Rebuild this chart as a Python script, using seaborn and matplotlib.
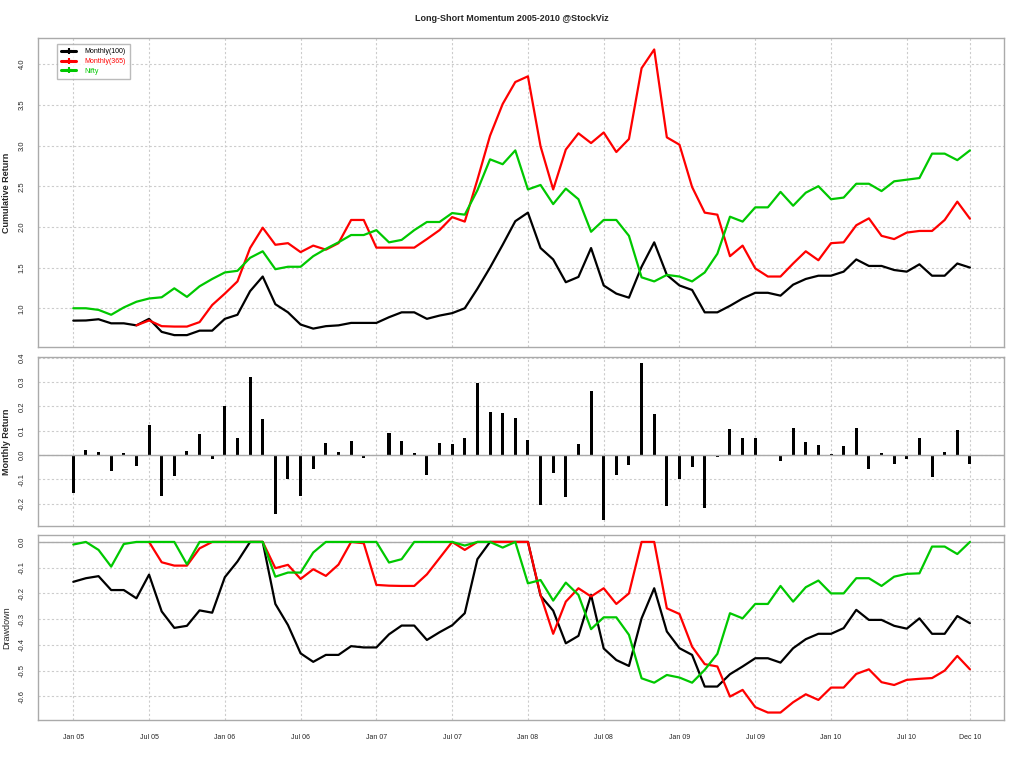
import numpy as np
import pandas as pd
import matplotlib
matplotlib.use("Agg")
import matplotlib.pyplot as plt
from matplotlib.lines import Line2D
import seaborn as sns

# ---------------- data ----------------
month_labels = ["Jan 05","Jul 05","Jan 06","Jul 06","Jan 07","Jul 07","Jan 08",
                "Jul 08","Jan 09","Jul 09","Jan 10","Jul 10","Dec 10"]
month_label_pos = [0, 6, 12, 18, 24, 30, 36, 42, 48, 54, 60, 66, 71]

cum_m100 = [0.848, 0.85, 0.865, 0.815, 0.815, 0.79, 0.87, 0.71, 0.67, 0.67, 0.725, 0.725,
            0.87, 0.92, 1.21, 1.39, 1.05, 0.95, 0.80, 0.75, 0.78, 0.79, 0.82, 0.82,
            0.82, 0.89, 0.95, 0.95, 0.87, 0.91, 0.94, 1.00, 1.24, 1.50, 1.78, 2.07,
            2.175, 1.74, 1.60, 1.32, 1.385, 1.74, 1.28, 1.18, 1.13, 1.51, 1.81, 1.41,
            1.28, 1.225, 0.95, 0.95, 1.03, 1.12, 1.19, 1.19, 1.155, 1.29, 1.36, 1.40,
            1.40, 1.45, 1.60, 1.52, 1.52, 1.47, 1.45, 1.54, 1.40, 1.40, 1.55, 1.50]
cum_m365 = [np.nan, np.nan, np.nan, np.nan, np.nan, 0.79, 0.85, 0.78, 0.775, 0.775, 0.83, 1.04,
            1.18, 1.33, 1.74, 1.99, 1.78, 1.80, 1.69, 1.77, 1.72, 1.80, 2.085, 2.085,
            1.745, 1.745, 1.745, 1.745, 1.85, 1.96, 2.12, 2.065, 2.58, 3.12, 3.51, 3.78,
            3.85, 2.99, 2.46, 2.95, 3.15, 3.03, 3.16, 2.92, 3.08, 3.95, 4.18, 3.10,
            3.01, 2.49, 2.175, 2.15, 1.64, 1.77, 1.49, 1.39, 1.39, 1.55, 1.70, 1.59,
            1.80, 1.81, 2.02, 2.105, 1.89, 1.85, 1.93, 1.95, 1.95, 2.085, 2.31, 2.10]
cum_nifty = [1.00, 1.00, 0.98, 0.92, 1.01, 1.08, 1.12, 1.135, 1.245, 1.14, 1.27, 1.36,
             1.44, 1.46, 1.62, 1.70, 1.48, 1.51, 1.51, 1.64, 1.73, 1.81, 1.90, 1.90,
             1.96, 1.81, 1.84, 1.96, 2.06, 2.06, 2.17, 2.15, 2.45, 2.83, 2.77, 2.94,
             2.46, 2.515, 2.28, 2.47, 2.34, 1.94, 2.085, 2.085, 1.89, 1.38, 1.33, 1.41,
             1.39, 1.33, 1.44, 1.67, 2.125, 2.065, 2.24, 2.24, 2.43, 2.26, 2.42, 2.50,
             2.34, 2.36, 2.53, 2.53, 2.44, 2.56, 2.58, 2.60, 2.90, 2.90, 2.82, 2.94]

monthly_ret = [-0.155, 0.02, 0.012, -0.064, 0.008, -0.044, 0.123, -0.167, -0.085, 0.016, 0.086, -0.015,
               0.20, 0.07, 0.32, 0.148, -0.241, -0.097, -0.167, -0.056, 0.049, 0.012, 0.059, -0.011,
               -0.004, 0.09, 0.059, 0.008, -0.081, 0.049, 0.045, 0.07, 0.297, 0.178, 0.174, 0.152,
               0.062, -0.205, -0.073, -0.171, 0.045, 0.264, -0.267, -0.082, -0.041, 0.379, 0.168, -0.21,
               -0.099, -0.049, -0.218, -0.008, 0.107, 0.07, 0.07, 0.002, -0.025, 0.111, 0.055, 0.041,
               0.005, 0.037, 0.111, -0.058, 0.008, -0.037, -0.016, 0.07, -0.09, 0.014, 0.103, -0.037]

dd_m100 = [-0.155, -0.141, -0.133, -0.187, -0.187, -0.219, -0.127, -0.27, -0.334, -0.326, -0.266, -0.275,
           -0.137, -0.076, 0.0, 0.0, -0.241, -0.323, -0.433, -0.466, -0.439, -0.439, -0.405, -0.41,
           -0.41, -0.359, -0.325, -0.325, -0.381, -0.351, -0.324, -0.277, -0.067, 0.0, 0.0, 0.0,
           0.0, -0.209, -0.267, -0.394, -0.365, -0.206, -0.414, -0.459, -0.482, -0.297, -0.18, -0.348,
           -0.413, -0.439, -0.562, -0.562, -0.514, -0.484, -0.452, -0.452, -0.469, -0.413, -0.378, -0.357,
           -0.357, -0.335, -0.264, -0.303, -0.303, -0.326, -0.337, -0.297, -0.357, -0.357, -0.288, -0.316]
dd_m365 = [np.nan, np.nan, np.nan, np.nan, np.nan, np.nan, 0.0, -0.079, -0.092, -0.092, -0.025, 0.0,
           0.0, 0.0, 0.0, 0.0, -0.102, -0.089, -0.144, -0.106, -0.132, -0.088, 0.0, -0.005,
           -0.167, -0.17, -0.171, -0.171, -0.126, -0.063, 0.0, -0.031, 0.0, 0.0, 0.0, 0.0,
           0.0, -0.206, -0.357, -0.232, -0.18, -0.212, -0.18, -0.241, -0.2, 0.0, 0.0, -0.258,
           -0.28, -0.407, -0.475, -0.484, -0.601, -0.575, -0.642, -0.663, -0.663, -0.623, -0.592, -0.614,
           -0.566, -0.566, -0.513, -0.495, -0.545, -0.556, -0.536, -0.532, -0.529, -0.5, -0.443, -0.495]
dd_nifty = [-0.01, 0.0, -0.031, -0.096, -0.008, 0.0, 0.0, 0.0, 0.0, -0.087, 0.0, 0.0,
            0.0, 0.0, 0.0, 0.0, -0.135, -0.119, -0.119, -0.041, 0.0, 0.0, 0.0, 0.0,
            0.0, -0.08, -0.067, 0.0, 0.0, 0.0, 0.0, -0.014, 0.0, 0.0, -0.022, 0.0,
            -0.161, -0.148, -0.228, -0.158, -0.206, -0.339, -0.293, -0.293, -0.361, -0.53, -0.547, -0.517,
            -0.527, -0.547, -0.497, -0.435, -0.277, -0.297, -0.241, -0.241, -0.171, -0.232, -0.176, -0.15,
            -0.2, -0.2, -0.141, -0.141, -0.171, -0.135, -0.124, -0.122, -0.018, -0.018, -0.047, 0.0]

series_names = ["Monthly(100)", "Monthly(365)", "Nifty"]
colors = ["#000000", "#FF0000", "#00C800"]

# ---------------- build frames ----------------
n = len(cum_m100)
idx = np.arange(n)
cum_df = pd.concat([pd.DataFrame({"month": idx, "value": v, "series": s})
                    for v, s in zip([cum_m100, cum_m365, cum_nifty], series_names)],
                   ignore_index=True)
dd_df = pd.concat([pd.DataFrame({"month": idx, "value": v, "series": s})
                   for v, s in zip([dd_m100, dd_m365, dd_nifty], series_names)],
                  ignore_index=True)
ret_df = pd.DataFrame({"month": idx, "ret": monthly_ret})

# ---------------- style ----------------
sns.set_style("white")
plt.rcParams["font.family"] = ["Liberation Sans", "DejaVu Sans"]
frame_col = "#AAAAAA"
grid_kw = dict(color="#CCCCCC", linestyle=(0, (2, 2)), linewidth=0.8)

fig = plt.figure(figsize=(10.24, 7.68), dpi=100)
L, R = 0.0374, 0.9805
ax1 = fig.add_axes([L, 0.5486, R - L, 0.9501 - 0.5486])
ax2 = fig.add_axes([L, 0.3155, R - L, 0.5348 - 0.3155])
ax3 = fig.add_axes([L, 0.0625, R - L, 0.3034 - 0.0625])

xlim = (-2.77, 73.7)
palette = dict(zip(series_names, colors))

# top: cumulative return
sns.lineplot(data=cum_df, x="month", y="value", hue="series", hue_order=series_names,
             palette=palette, estimator=None, sort=False, linewidth=1.6, ax=ax1, legend=False)
ax1.set_ylim(0.528, 4.317)
ax1.set_yticks([1.0, 1.5, 2.0, 2.5, 3.0, 3.5, 4.0])
ax1.set_ylabel("Cumulative Return", fontsize=6.5, fontweight="bold")

# middle: monthly returns
sns.barplot(data=ret_df, x="month", y="ret", native_scale=True, color="black",
            width=0.24, ax=ax2, saturation=1, linewidth=0)
ax2.axhline(0, color=frame_col, linewidth=1.0, zorder=1)
ax2.set_ylim(-0.29, 0.401)
ax2.set_yticks([-0.2, -0.1, 0.0, 0.1, 0.2, 0.3, 0.4])
ax2.set_ylabel("Monthly Return", fontsize=6.5, fontweight="bold")

# bottom: drawdown
ax3.axhline(0, color=frame_col, linewidth=1.0, zorder=1)
sns.lineplot(data=dd_df, x="month", y="value", hue="series", hue_order=series_names,
             palette=palette, estimator=None, sort=False, linewidth=1.6, ax=ax3, legend=False)
ax3.set_ylim(-0.692, 0.027)
ax3.set_yticks([-0.6, -0.5, -0.4, -0.3, -0.2, -0.1, 0.0])
ax3.set_ylabel("Drawdown", fontsize=6.5)

for ax in (ax1, ax2, ax3):
    ax.set_xlim(*xlim)
    ax.set_xlabel("")
    ax.set_xticks(month_label_pos)
    ax.grid(True, **grid_kw)
    ax.set_axisbelow(True)
    for sp in ax.spines.values():
        sp.set_color(frame_col)
        sp.set_linewidth(1.0)
    ax.yaxis.set_major_formatter(matplotlib.ticker.FormatStrFormatter("%.1f"))
    ax.tick_params(axis="y", length=5, width=1.0, color=frame_col, labelsize=5.5,
                   pad=4, labelrotation=90)
    for lab in ax.get_yticklabels():
        lab.set_verticalalignment("center")
    ax.yaxis.label.set_verticalalignment("center")
    ax.yaxis.set_label_coords(-0.0325, 0.5)

for ax in (ax1, ax2):
    ax.tick_params(axis="x", length=0, labelbottom=False)

ax3.set_xticklabels(month_labels)
ax3.tick_params(axis="x", length=5, width=1.0, color="black", labelsize=5, pad=5)
ax3.set_xticks(np.arange(n), minor=True)
ax3.tick_params(axis="x", which="minor", length=5, width=1.0, color=frame_col)

# legend
handles = [Line2D([0], [0], color=c, linewidth=2.2, marker="+", markersize=5,
                  markeredgewidth=1.5) for c in colors]
leg = ax1.legend(handles, series_names, loc="upper left", bbox_to_anchor=(0.0194, 0.9815),
                 fontsize=5, frameon=True, fancybox=False, edgecolor=frame_col,
                 handlelength=2.2, borderpad=0.6, labelspacing=0.4, handletextpad=1.2,
                 borderaxespad=0)
leg.get_frame().set_linewidth(1.0)
for t, c in zip(leg.get_texts(), colors):
    t.set_color(c)

fig.suptitle("Long-Short Momentum 2005-2010 @StockViz", x=0.5, y=0.982,
             fontsize=6.5, fontweight="bold")

fig.savefig("out.png", dpi=100)
